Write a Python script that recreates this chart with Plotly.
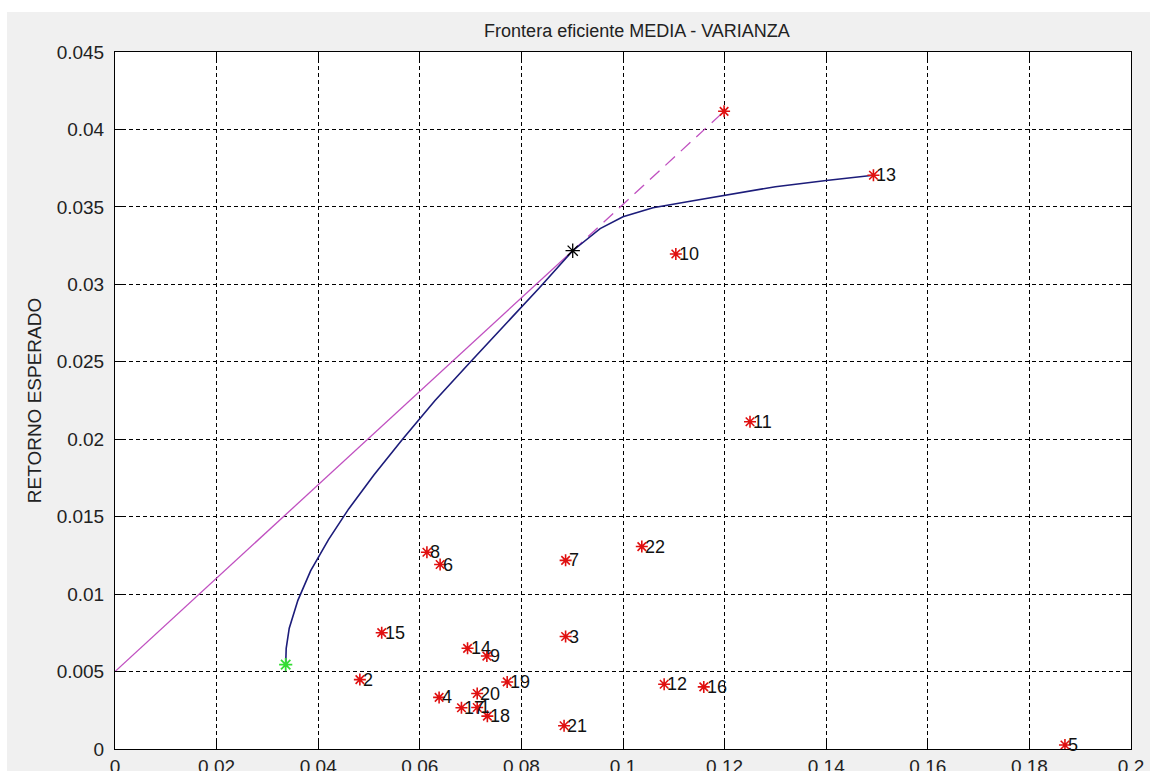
import plotly.graph_objects as go

# Individual assets: risk (std. dev.) and expected return
asset_ids = [str(i) for i in range(1, 23)]
asset_risk = [0.0713, 0.0482, 0.0887, 0.0638, 0.1870, 0.0640, 0.0887, 0.0614,
              0.0732, 0.1104, 0.1250, 0.1081, 0.1493, 0.0694, 0.0525, 0.1159,
              0.0682, 0.0733, 0.0772, 0.0713, 0.0884, 0.1037]
asset_ret = [0.00268, 0.00448, 0.00726, 0.00333, 0.00026, 0.01191, 0.01218, 0.0127,
             0.0060, 0.03196, 0.02113, 0.00418, 0.03704, 0.0065, 0.00751, 0.00401,
             0.00266, 0.00212, 0.00433, 0.00358, 0.0015, 0.01307]

# Efficient frontier (mean-variance)
frontier_risk = [0.0336, 0.0337, 0.0343, 0.0360, 0.0385, 0.0420, 0.0460, 0.0510,
                 0.0566, 0.0630, 0.0700, 0.0768, 0.0836, 0.0901, 0.0955, 0.1000,
                 0.1059, 0.1138, 0.1200, 0.1300, 0.1400, 0.1493]
frontier_ret = [0.00545, 0.0065, 0.0078, 0.0096, 0.0115, 0.0135, 0.0155, 0.0177,
                0.0200, 0.0225, 0.0250, 0.0274, 0.0298, 0.03217, 0.0336, 0.03436,
                0.03495, 0.0354, 0.03575, 0.0363, 0.0367, 0.03704]

# Capital market line: risk-free asset, tangency portfolio, leveraged portfolio
risk_free = [0.0, 0.005]
tangency = [0.0901, 0.03217]
leveraged = [0.1199, 0.04117]
min_variance = [0.0336, 0.00545]

x_ticks = [0, 0.02, 0.04, 0.06, 0.08, 0.1, 0.12, 0.14, 0.16, 0.18, 0.2]
x_tick_text = ["0", "0.02", "0.04", "0.06", "0.08", "0.1", "0.12", "0.14", "0.16", "0.18", "0.2"]
y_ticks = [0, 0.005, 0.01, 0.015, 0.02, 0.025, 0.03, 0.035, 0.04, 0.045]
y_tick_text = ["0", "0.005", "0.01", "0.015", "0.02", "0.025", "0.03", "0.035", "0.04", "0.045"]

FONT = "Liberation Sans, Arial, sans-serif"
RED = "#e01010"


def star(color, size, width):
    return dict(symbol="asterisk-open", size=size, color=color,
                line=dict(color=color, width=width))


fig = go.Figure()

# CML: solid up to the tangency portfolio, dashed beyond it
fig.add_trace(go.Scatter(x=[risk_free[0], tangency[0]], y=[risk_free[1], tangency[1]],
                         mode="lines", line=dict(color="#c050c0", width=1.3),
                         hoverinfo="skip", showlegend=False))
fig.add_trace(go.Scatter(x=[tangency[0], leveraged[0]], y=[tangency[1], leveraged[1]],
                         mode="lines", line=dict(color="#c050c0", width=1.3, dash="13px,8px"),
                         hoverinfo="skip", showlegend=False))

# Frontier
fig.add_trace(go.Scatter(x=frontier_risk, y=frontier_ret, mode="lines",
                         line=dict(color="#1c1c7a", width=1.6),
                         hoverinfo="skip", showlegend=False))

# Assets
fig.add_trace(go.Scatter(x=asset_risk, y=asset_ret, mode="markers",
                         marker=star(RED, 10, 1.6), showlegend=False))

# Leveraged portfolio
fig.add_trace(go.Scatter(x=[leveraged[0]], y=[leveraged[1]], mode="markers",
                         marker=star(RED, 10, 1.6), showlegend=False))

# Tangency portfolio
fig.add_trace(go.Scatter(x=[tangency[0]], y=[tangency[1]], mode="markers",
                         marker=star("#000000", 12, 1.3), showlegend=False))

# Minimum-variance portfolio
fig.add_trace(go.Scatter(x=[min_variance[0]], y=[min_variance[1]], mode="markers",
                         marker=star("#33dd33", 11, 1.8), showlegend=False))

# Asset number labels
for name, xv, yv in zip(asset_ids, asset_risk, asset_ret):
    fig.add_annotation(x=xv, y=yv, text=name, showarrow=False,
                       xanchor="left", yanchor="middle", xshift=1,
                       font=dict(family=FONT, size=18, color="#111111"))

W, H = 1150, 771
L, R, T, B = 115, 19, 52, 22
pw, ph = W - L - R, H - T - B

# White frame strips at the top and left edge of the grey figure
fig.add_shape(type="rect", xref="paper", yref="paper",
              x0=-L / pw, x1=(W - L) / pw, y0=1 + (T - 12) / ph, y1=1 + T / ph,
              fillcolor="white", line=dict(width=0), layer="below")
fig.add_shape(type="rect", xref="paper", yref="paper",
              x0=-L / pw, x1=(7 - L) / pw, y0=-B / ph, y1=1 + T / ph,
              fillcolor="white", line=dict(width=0), layer="below")

axis_common = dict(
    showline=True, linecolor="#000000", linewidth=1, mirror="ticks",
    ticks="inside", ticklen=7, tickcolor="#000000",
    showgrid=True, gridcolor="#000000", gridwidth=1, griddash="4px,3px",
    zeroline=False, automargin=False,
    tickfont=dict(family=FONT, size=19, color="#222222"),
)

fig.update_xaxes(range=[0, 0.2], tickvals=x_ticks, ticktext=x_tick_text,
                 ticklabelstandoff=0, **axis_common)
fig.update_yaxes(range=[0, 0.045], tickvals=y_ticks, ticktext=y_tick_text,
                 ticklabelstandoff=6,
                 title=dict(text="RETORNO ESPERADO", standoff=10,
                            font=dict(family=FONT, size=19, color="#222222")),
                 **axis_common)

fig.update_layout(
    width=W, height=H,
    margin=dict(l=L, r=R, t=T, b=B, autoexpand=False),
    paper_bgcolor="#f0f0f0", plot_bgcolor="#ffffff",
    title=dict(text="Frontera eficiente MEDIA - VARIANZA", x=637 / W,
               xanchor="center", y=1 - 31 / H, yanchor="middle",
               font=dict(family=FONT, size=18, color="#222222"), automargin=False),
    showlegend=False,
)

fig.write_html("out.html")
